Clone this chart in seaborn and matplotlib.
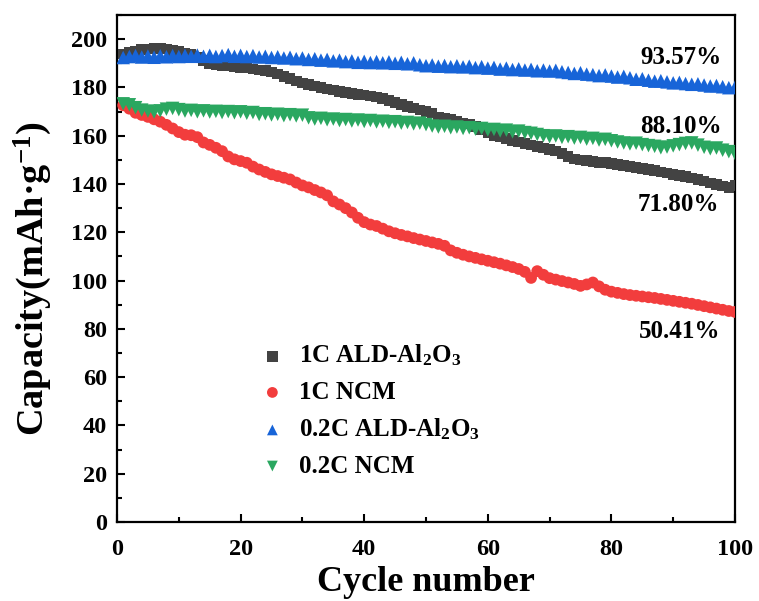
import numpy as np
import pandas as pd
import matplotlib
matplotlib.use("Agg")
import matplotlib.pyplot as plt
from matplotlib.ticker import MultipleLocator
import seaborn as sns

cycles = list(range(1, 101))

cap_1c_ald = [
    193.8, 194.4, 195.0, 195.6, 196.0, 196.3, 196.2, 195.9, 195.4, 194.8,
    194.2, 193.6, 192.4, 191.2, 190.0, 189.4, 189.2, 188.9, 188.6, 188.3,
    188.0, 187.7, 187.3, 186.9, 186.4, 185.6, 184.6, 183.6, 182.7, 181.9,
    181.2, 180.6, 180.0, 179.4, 178.9, 178.4, 177.9, 177.5, 177.1, 176.8,
    176.5, 176.1, 175.4, 174.6, 173.8, 173.0, 172.2, 171.4, 170.7, 170.0,
    169.4, 167.8, 167.2, 166.8, 166.0, 165.2, 164.8, 163.8, 162.6, 161.2,
    160.2, 159.6, 158.8, 158.0, 157.4, 156.8, 156.2, 155.6, 154.9, 154.3,
    153.6, 152.6, 151.4, 150.4, 150.0, 149.7, 149.3, 149.0, 148.8, 148.5,
    148.1, 147.7, 147.3, 146.9, 146.5, 146.0, 145.5, 145.0, 144.5, 144.0,
    143.5, 143.0, 142.5, 141.9, 141.2, 140.5, 139.8, 139.2, 138.6, 139.4,
]

cap_1c_ncm = [
    172.6, 171.2, 169.5, 168.6, 167.8, 166.8, 165.8, 164.5, 163.0, 161.5,
    160.4, 160.2, 159.4, 157.2, 156.2, 155.0, 153.6, 151.4, 150.2, 149.5,
    148.8, 147.2, 146.0, 145.0, 144.0, 143.3, 142.6, 141.9, 140.6, 139.4,
    138.6, 137.5, 136.5, 135.3, 132.8, 131.5, 130.0, 128.2, 126.0, 124.2,
    123.2, 122.6, 121.5, 120.4, 119.6, 118.9, 118.3, 117.6, 117.0, 116.4,
    115.8, 115.2, 114.4, 112.5, 111.5, 110.7, 110.0, 109.4, 108.8, 108.2,
    107.6, 107.0, 106.3, 105.6, 104.8, 103.6, 101.1, 103.9, 102.4, 101.0,
    100.4, 99.8, 99.2, 98.6, 97.8, 98.4, 99.2, 97.6, 96.2, 95.4,
    94.9, 94.4, 94.0, 93.7, 93.4, 93.1, 92.8, 92.4, 92.0, 91.6,
    91.2, 90.8, 90.4, 89.9, 89.4, 88.9, 88.4, 87.9, 87.4, 87.0,
]

cap_02c_ald = [
    192.4, 192.8, 193.2, 192.6, 193.0, 192.5, 193.1, 192.7, 193.2, 192.8,
    193.3, 192.9, 193.4, 192.9, 193.3, 192.8, 193.2, 193.6, 192.9, 193.3,
    192.8, 193.2, 192.6, 192.9, 192.4, 192.7, 192.2, 192.5, 191.9, 192.2,
    191.6, 191.9, 191.3, 191.6, 191.0, 191.3, 190.7, 191.0, 190.4, 190.8,
    190.3, 190.7, 190.2, 190.6, 190.0, 190.4, 189.8, 190.2, 189.4, 189.0,
    189.3, 188.8, 189.1, 188.6, 189.0, 188.5, 188.8, 188.2, 188.6, 188.0,
    188.3, 187.6, 188.0, 187.4, 187.7, 187.2, 187.5, 186.9, 187.2, 186.8,
    187.1, 186.5, 186.2, 185.8, 186.1, 185.5, 185.3, 184.9, 185.2, 184.7,
    184.3, 184.6, 184.0, 183.4, 183.6, 183.0, 182.6, 182.8, 182.3, 181.9,
    182.1, 181.6, 181.3, 181.5, 181.0, 180.6, 180.8, 180.3, 179.9, 180.1,
]

cap_02c_ncm = [
    173.2, 172.8, 171.6, 170.6, 170.2, 169.8, 170.3, 171.0, 171.3, 170.8,
    170.2, 170.5, 169.9, 170.3, 169.8, 170.1, 169.6, 170.0, 169.5, 169.9,
    169.3, 169.6, 168.8, 169.1, 168.6, 168.9, 168.3, 168.7, 168.2, 168.5,
    167.4, 166.9, 167.2, 166.6, 166.9, 166.3, 166.7, 166.1, 166.5, 165.9,
    166.3, 165.7, 166.0, 165.5, 165.8, 165.2, 165.5, 164.9, 165.2, 164.6,
    164.0, 163.6, 163.9, 163.3, 163.6, 163.0, 163.3, 162.7, 163.0, 162.4,
    162.6, 162.0, 162.3, 161.6, 161.9, 161.3, 161.0, 160.5, 160.0, 159.6,
    159.9, 159.3, 159.6, 159.0, 159.3, 158.6, 158.9, 158.2, 158.5, 157.9,
    157.4, 157.0, 156.6, 156.9, 156.3, 155.9, 155.6, 155.0, 155.3, 155.8,
    156.3, 156.8, 157.0, 156.1, 155.2, 154.6, 154.9, 154.0, 153.4, 152.6,
]

series_labels = ["1C ALD-Al$_2$O$_3$", "1C NCM", "0.2C ALD-Al$_2$O$_3$", "0.2C NCM"]
retention_labels = ["71.80%", "50.41%", "93.57%", "88.10%"]
retention_x = [90.8, 91.1, 91.3, 91.3]
retention_y = [131.5, 78.8, 192.5, 163.9]

sns.set_theme(style="ticks")
plt.rcParams["font.family"] = ["Liberation Serif", "DejaVu Serif"]
plt.rcParams["font.weight"] = "bold"
plt.rcParams["mathtext.fontset"] = "custom"
plt.rcParams["mathtext.rm"] = "Liberation Serif:bold"
plt.rcParams["mathtext.it"] = "Liberation Serif:bold:italic"
plt.rcParams["mathtext.bf"] = "Liberation Serif:bold"
plt.rcParams["text.color"] = "black"
plt.rcParams["axes.labelcolor"] = "black"
plt.rcParams["xtick.color"] = "black"
plt.rcParams["ytick.color"] = "black"

fig = plt.figure(figsize=(7.59, 6.01), dpi=100)
ax = fig.add_axes([117 / 759, 1 - 522 / 601, (735 - 117) / 759, (522 - 15) / 601])

colors = ["#434343", "#f23d3d", "#1764d8", "#2aa760"]
markers = ["s", "o", "^", "v"]
sizes = [58, 72, 95, 95]
data = [cap_1c_ald, cap_1c_ncm, cap_02c_ald, cap_02c_ncm]

for vals, lab, col, mk, sz in zip(data, series_labels, colors, markers, sizes):
    df = pd.DataFrame({"Cycle": cycles, "Capacity": vals})
    sns.scatterplot(data=df, x="Cycle", y="Capacity", ax=ax, marker=mk, color=col,
                    s=sz, edgecolor="none", linewidth=0, label=lab, clip_on=True, zorder=3)

for t, xx, yy in zip(retention_labels, retention_x, retention_y):
    ax.text(xx, yy, t, ha="center", va="center", fontsize=18, fontweight="bold", color="black")

ax.set_xlim(0, 100)
ax.set_ylim(0, 210)
ax.xaxis.set_major_locator(MultipleLocator(20))
ax.xaxis.set_minor_locator(MultipleLocator(10))
ax.yaxis.set_minor_locator(MultipleLocator(10))
ax.set_yticks(range(0, 201, 20))
ax.tick_params(axis="both", which="major", direction="in", length=6, width=1.5,
               labelsize=17.5, pad=7, colors="black")
ax.tick_params(axis="x", which="major", pad=12)
ax.tick_params(axis="both", which="minor", direction="in", length=3.5, width=1.5)
for lbl in ax.get_xticklabels() + ax.get_yticklabels():
    lbl.set_fontweight("bold")
for sp in ax.spines.values():
    sp.set_linewidth(1.6)
    sp.set_color("black")
    sp.set_visible(True)

ax.set_xlabel("Cycle number", fontsize=26, fontweight="bold")
ax.set_ylabel("Capacity(mAh·g$^{-1}$)", fontsize=27.5, fontweight="bold")
ax.xaxis.set_label_coords(0.5, -0.087)
ax.yaxis.set_label_coords(-0.102, 0.48)

leg = ax.legend(loc="upper left", bbox_to_anchor=(0.215, 0.373), frameon=False,
                prop={"family": "Liberation Serif", "weight": "bold", "size": 18},
                handletextpad=0.55, labelspacing=0.5, borderaxespad=0, handlelength=1.0)
for h in leg.legend_handles:
    h.set_sizes([60])

fig.savefig("out.png", dpi=100)
